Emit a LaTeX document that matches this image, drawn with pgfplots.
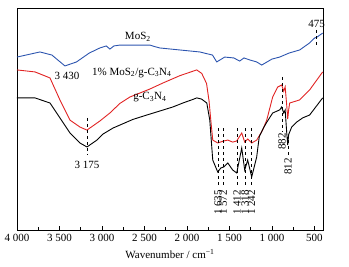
\documentclass[border=0pt]{standalone}
\usepackage{fontspec}
\setmainfont{Liberation Serif}
\usepackage{pgfplots}
\pgfplotsset{compat=1.18}
\definecolor{ftblue}{RGB}{45,85,175}
\definecolor{ftred}{RGB}{225,35,35}
\begin{document}
\begin{tikzpicture}
\useasboundingbox (-17pt,-37pt) rectangle (332pt,230pt);
\begin{axis}[
  at={(0,0)}, anchor=south west,
  scale only axis, width=306pt, height=222pt,
  x dir=reverse, xmin=400, xmax=4000, ymin=0, ymax=100,
  ytick=\empty,
  xtick={4000,3500,3000,2500,2000,1500,1000,500},
  xticklabels={4 000,3 500,3 000,2 500,2 000,1 500,1 000,500},
  minor xtick={3750,3250,2750,2250,1750,1250,750},
  xtick pos=bottom, tick align=inside,
  major tick length=3.5pt, minor tick length=2.5pt,
  tick style={black, line width=0.6pt},
  axis line style={line width=0.8pt},
  xticklabel style={font=\fontsize{11}{12}\selectfont, inner sep=0pt, yshift=-4pt},
  /pgf/number format/assume math mode=true,
  xlabel={Wavenumber / cm\textsuperscript{−1}},
  xlabel style={font=\fontsize{11}{12}\selectfont, at={(axis description cs:0.5,0)}, anchor=center, yshift=-24pt},
  clip=false,
]
% MoS2
\addplot[ftblue, line width=0.9pt] coordinates {
(4000,77.9) (3730,80.2) (3589,78.8) (3436,73.9) (3300,75.7) (3150,79.7)
(3025,82.0) (2950,82.9) (2907,81.5) (2860,82.9) (2790,83.3) (2437,83.3)
(2378,82.6) (2320,82.0) (1850,80.2) (1700,78.8) (1650,75.7) (1556,77.9)
(1450,77.5) (1380,76.1) (1330,77.5) (1262,76.6) (1180,75.7) (1121,74.3)
(1000,77.0) (909,77.9) (800,79.7) (674,81.1) (560,84.2) (498,86.5)
(470,86.9) (404,88.7)
};
% 1% MoS2/g-C3N4
\addplot[ftred, line width=0.9pt] coordinates {
(4000,72.1) (3788,71.2) (3612,68.5) (3495,58.6) (3377,49.5) (3260,46.4)
(3177,45.0) (3025,49.1) (2907,52.7) (2790,57.0) (2672,59.9) (2437,63.5)
(2284,66.2) (2085,69.5) (1932,71.5) (1885,72.1) (1826,70.5) (1770,66.0)
(1740,58.0) (1720,49.5)
(1697,40.5) (1638,39.2) (1568,40.1) (1520,40.5) (1462,39.6) (1415,40.1)
(1356,43.7) (1321,39.6) (1286,41.0) (1239,39.2) (1180,40.5) (1110,45.0)
(1062,49.5) (992,59.9) (933,64.4) (886,65.3) (862,62.5) (845,64.5)
(827,56.3) (815,50.0) (804,54.1) (792,57.2) (674,58.6) (557,63.1) (404,71.2)
};
% g-C3N4
\addplot[black, line width=0.9pt] coordinates {
(4000,59.5) (3788,59.5) (3612,57.2) (3495,50.5) (3377,43.7) (3260,39.2)
(3177,37.4) (3060,40.5) (2989,43.2) (2872,45.9) (2637,49.8) (2472,51.8)
(2167,55.4) (2049,57.2) (1932,58.8) (1885,59.5) (1830,59.0) (1767,57.2) (1732,49.5)
(1697,31.5) (1638,26.1) (1603,27.9) (1568,28.4) (1520,30.2) (1462,27.0)
(1415,25.7) (1356,36.9) (1321,27.0) (1286,31.5) (1239,23.9) (1180,32.9)
(1150,42.0) (1100,46.0) (1062,48.5) (992,52.7) (909,54.1) (886,55.4) (862,52.7)
(845,54.0) (827,44.0) (815,38.3) (804,43.0) (768,46.4) (710,48.6) (639,50.5)
(557,51.8) (404,59.5)
};
% dashed markers
\draw[dashed, line width=0.6pt] (axis cs:3175,50.5) -- (axis cs:3175,33.8);
\draw[dashed, line width=0.6pt] (axis cs:475,90.1) -- (axis cs:475,82.4);
\foreach \w in {1635,1572,1412,1318,1242}{
  \edef\tmp{\noexpand\draw[dashed, line width=0.6pt] (axis cs:\w,45.9) -- (axis cs:\w,18.9);}\tmp
}
\draw[dashed, line width=0.6pt] (axis cs:882,69.0) -- (axis cs:882,44.6);
\draw[dashed, line width=0.6pt] (axis cs:812,40.5) -- (axis cs:812,33.3);
% labels
\begin{scope}[every node/.style={font=\fontsize{11}{12}\selectfont, inner sep=1pt}]
\node at (axis cs:3175,29.5) {3 175};
\node at (axis cs:475,93.0) {475};
\node at (axis cs:3412,69.4) {3 430};
\node at (axis cs:2578,86.9) {MoS\textsubscript{2}};
\node at (axis cs:2649,70.9) {1\% MoS\textsubscript{2}/g-C\textsubscript{3}N\textsubscript{4}};
\node at (axis cs:2437,59.9) {g-C\textsubscript{3}N\textsubscript{4}};
\node[rotate=90, anchor=east] at (axis cs:1635,18.5) {1 635};
\node[rotate=90, anchor=east] at (axis cs:1572,18.5) {1 572};
\node[rotate=90, anchor=east] at (axis cs:1412,18.5) {1 412};
\node[rotate=90, anchor=east] at (axis cs:1318,18.5) {1 318};
\node[rotate=90, anchor=east] at (axis cs:1242,18.5) {1 242};
\node[rotate=90, anchor=east] at (axis cs:882,44.2) {882};
\node[rotate=90, anchor=east] at (axis cs:812,32.9) {812};
\end{scope}
\end{axis}
\end{tikzpicture}
\end{document}
